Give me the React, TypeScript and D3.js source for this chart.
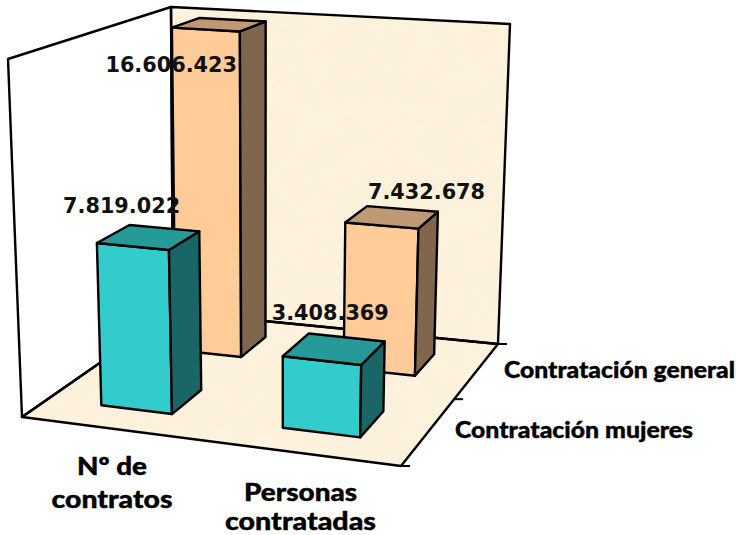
import React from "react";
import * as d3 from "d3";

const categories = ["Nº de contratos", "Personas contratadas"];
const seriesNames = ["Contratación general", "Contratación mujeres"];
const generalValues = [16606423, 7432678];
const womenValues = [7819022, 3408369];
const valueLabels = [
  ["16.606.423", "7.432.678"],
  ["7.819.022", "3.408.369"],
];

const width = 736;
const height = 535;
const valueMax = 16700000;

// screen corners of the chart box: front-left, front-right, back-right, back-left
const floorCorners = [[22, 417], [401, 466], [498, 344], [173, 312]];
const ceilingCorners = [[8, 59], [410, 87], [510, 24], [171, 7]];

// maps the unit square onto a four sided shape (perspective)
function quadMap(q: number[][]) {
  const [[x0, y0], [x1, y1], [x2, y2], [x3, y3]] = q;
  const dx1 = x1 - x2, dx2 = x3 - x2, sx = x0 - x1 + x2 - x3;
  const dy1 = y1 - y2, dy2 = y3 - y2, sy = y0 - y1 + y2 - y3;
  const det = dx1 * dy2 - dx2 * dy1;
  const g = (sx * dy2 - dx2 * sy) / det;
  const h = (dx1 * sy - sx * dy1) / det;
  const a = x1 - x0 + g * x1, b = x3 - x0 + h * x3;
  const d = y1 - y0 + g * y1, e = y3 - y0 + h * y3;
  return (u: number, v: number): [number, number] => {
    const w = g * u + h * v + 1;
    return [(a * u + b * v + x0) / w, (d * u + e * v + y0) / w];
  };
}

const floorMap = quadMap(floorCorners);
const ceilingMap = quadMap(ceilingCorners);

const xBand = d3.scaleBand<string>().domain(categories).range([0.005, 1.005]).paddingInner(0.6).paddingOuter(0.3);
// depth runs from the front (women) to the back (general)
const zBand = d3.scaleBand<string>().domain([seriesNames[1], seriesNames[0]]).range([0, 1]).paddingInner(0.6).paddingOuter(0.3);
// slight power because height is foreshortened towards the top of the box
const yScale = d3.scalePow().exponent(1.02).domain([0, valueMax]).range([0, 1]);

function project(u: number, v: number, value: number): [number, number] {
  const p = floorMap(u, v);
  const t = ceilingMap(u, v);
  const f = yScale(value);
  return [p[0] + (t[0] - p[0]) * f, p[1] + (t[1] - p[1]) * f];
}

const line = d3.line();
const shape = (pts: [number, number][]) => line(pts) + "Z";

const palettes: Record<string, { front: string; side: string; top: string }> = {
  [seriesNames[0]]: { front: "#FFCC99", side: "#80664D", top: "#BF9973" },
  [seriesNames[1]]: { front: "#33CCCC", side: "#1A6666", top: "#269999" },
};

function Bar({ category, series, value }: { category: string; series: string; value: number }) {
  const u0 = xBand(category)!;
  const u1 = u0 + xBand.bandwidth();
  const v0 = zBand(series)!;
  const v1 = v0 + zBand.bandwidth();
  const c = palettes[series];
  const stroke = { stroke: "#000", strokeWidth: 2.4, strokeLinejoin: "round" as const };
  return (
    <g>
      <path d={shape([project(u0, v0, 0), project(u1, v0, 0), project(u1, v0, value), project(u0, v0, value)])} fill={c.front} {...stroke} />
      <path d={shape([project(u1, v0, 0), project(u1, v1, 0), project(u1, v1, value), project(u1, v0, value)])} fill={c.side} {...stroke} />
      <path d={shape([project(u0, v0, value), project(u1, v0, value), project(u1, v1, value), project(u0, v1, value)])} fill={c.top} {...stroke} />
    </g>
  );
}

const valueFont = { fontFamily: "'DejaVu Sans'", fontWeight: 700, fontSize: 20.8, fill: "#111" };
const labelFont = { fontFamily: "Lato", fontWeight: 900, fontSize: 24.5, fill: "#000", stroke: "#000", strokeWidth: 0.4 };

// label position relative to the centre of the bar's top face
const labelOffsets = [
  [[-48, 48], [34.5, -18]],
  [[-27, -24], [-4, -29]],
];

const axisLabels = [
  { text: "Nº de", x: 112, y: 475, length: 70 },
  { text: "contratos", x: 112, y: 508, length: 121 },
  { text: "Personas", x: 300.5, y: 501, length: 113 },
  { text: "contratadas", x: 300.5, y: 530, length: 151 },
];

export default function App() {
  const corner = (u: number, v: number, top: boolean) => (top ? ceilingMap(u, v) : floorMap(u, v));
  const depthTicks = [0, 0.5, 1];
  const rows = [
    { series: seriesNames[0], values: generalValues, labels: valueLabels[0], offsets: labelOffsets[0] },
    { series: seriesNames[1], values: womenValues, labels: valueLabels[1], offsets: labelOffsets[1] },
  ];

  return (
    <svg width={width} height={height} viewBox={`0 0 ${width} ${height}`} style={{ position: "fixed", left: 0, top: 0, display: "block", background: "#fff" }}>
      <defs>
        <filter id="paper" x="0" y="0" width="100%" height="100%">
          <feTurbulence type="fractalNoise" baseFrequency="0.03" numOctaves="3" seed="7" result="noise" />
          <feColorMatrix in="noise" type="matrix" values="0 0 0 0 0.97  0 0 0 0 0.88  0 0 0 0 0.7  0.5 0 0 0 -0.17" result="tint" />
          <feComposite in="tint" in2="SourceGraphic" operator="in" result="spots" />
          <feMerge>
            <feMergeNode in="SourceGraphic" />
            <feMergeNode in="spots" />
          </feMerge>
        </filter>
      </defs>

      {/* walls and floor */}
      <path d={shape([corner(0, 1, false), corner(1, 1, false), corner(1, 1, true), corner(0, 1, true)])} fill="#FDF2DD" filter="url(#paper)" />
      <path d={shape([corner(0, 0, false), corner(1, 0, false), corner(1, 1, false), corner(0, 1, false)])} fill="#FDF2DD" filter="url(#paper)" />
      <path d={shape([corner(0, 0, false), corner(0, 1, false), corner(0, 1, true), corner(0, 0, true)])} fill="#fff" stroke="#000" strokeWidth={2.4} strokeLinejoin="round" />
      <path d={shape([corner(0, 1, false), corner(1, 1, false), corner(1, 1, true), corner(0, 1, true)])} fill="none" stroke="#000" strokeWidth={2.4} strokeLinejoin="round" />
      <path d={shape([corner(0, 0, false), corner(1, 0, false), corner(1, 1, false), corner(0, 1, false)])} fill="none" stroke="#000" strokeWidth={2.4} strokeLinejoin="round" />

      {/* depth axis ticks */}
      {depthTicks.map((v) => {
        const [x, y] = floorMap(1, v);
        return <line key={v} x1={x} y1={y} x2={x + 9} y2={y} stroke="#000" strokeWidth={2} />;
      })}

      {/* back row first so the front row covers it */}
      {rows.map((row) =>
        categories.map((cat, i) => <Bar key={row.series + cat} category={cat} series={row.series} value={row.values[i]} />)
      )}

      {rows.map((row) =>
        categories.map((cat, i) => {
          const u = xBand(cat)! + xBand.bandwidth() / 2;
          const v = zBand(row.series)! + zBand.bandwidth() / 2;
          const [x, y] = project(u, v, row.values[i]);
          return (
            <text key={row.labels[i]} x={x + row.offsets[i][0]} y={y + row.offsets[i][1]} textAnchor="middle" {...valueFont}>
              {row.labels[i]}
            </text>
          );
        })
      )}

      {axisLabels.map((l) => (
        <text key={l.text} x={l.x} y={l.y} textAnchor="middle" textLength={l.length} lengthAdjust="spacingAndGlyphs" {...labelFont}>
          {l.text}
        </text>
      ))}
      <text x={504} y={378} textLength={231} lengthAdjust="spacingAndGlyphs" {...labelFont} fontSize={23}>{seriesNames[0]}</text>
      <text x={455} y={438} textLength={238} lengthAdjust="spacingAndGlyphs" {...labelFont} fontSize={23}>{seriesNames[1]}</text>
    </svg>
  );
}
